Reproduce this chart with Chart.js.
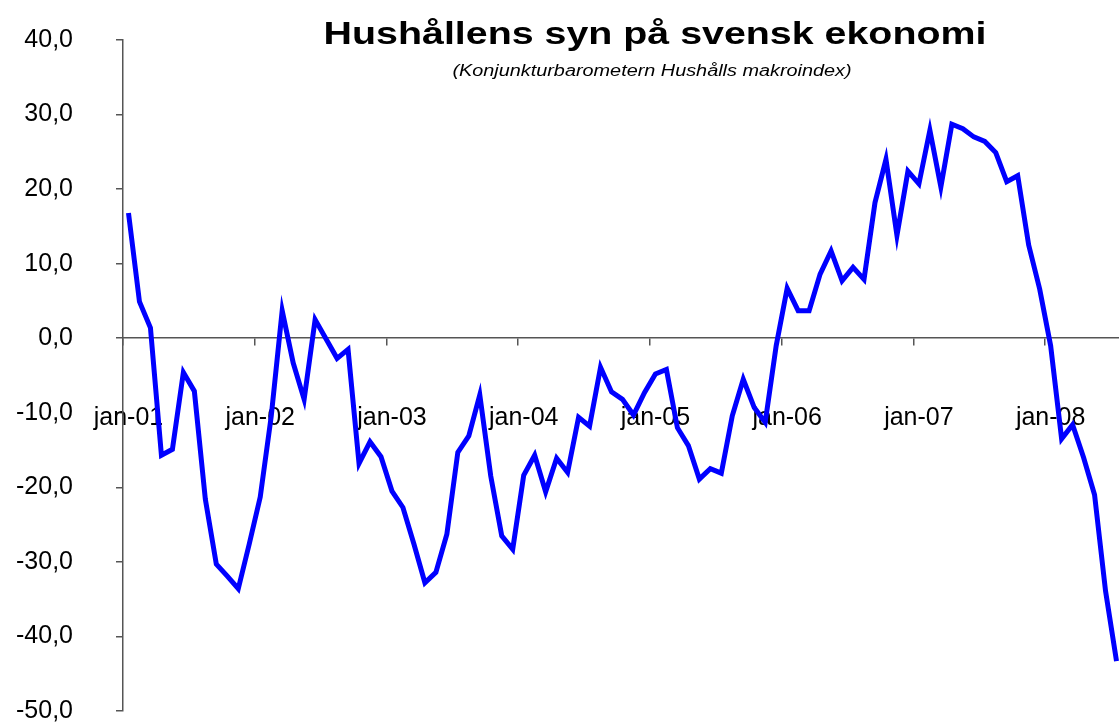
<!DOCTYPE html>
<html>
<head>
<meta charset="utf-8">
<script src="https://cdn.jsdelivr.net/npm/chart.js@4/dist/chart.umd.min.js"></script>
<style>
  html, body { margin: 0; padding: 0; background: #fff; overflow: hidden; }
</style>
</head>
<body>
<canvas id="canvas" width="1122" height="722"></canvas>
<script>
var monthNames = ['jan', 'feb', 'mar', 'apr', 'maj', 'jun', 'jul', 'aug', 'sep', 'okt', 'nov', 'dec'];
var years = ['01', '02', '03', '04', '05', '06', '07', '08'];
var yTicks = [40, 30, 20, 10, 0, -10, -20, -30, -40, -50];

// Hushålls makroindex, jan-01 .. jul-08
var makroindex = [
  16.8, 4.9, 1.4, -15.7, -14.9, -4.6, -7.1, -21.6, -30.3, -31.9, -33.6, -27.6,
  -21.3, -10.5, 3.7, -3.3, -8.2, 2.5, -0.1, -2.7, -1.5, -16.8, -13.9, -15.9,
  -20.5, -22.7, -27.6, -32.8, -31.4, -26.3, -15.3, -13.1, -7.6, -18.5, -26.5, -28.3,
  -18.4, -15.7, -20.6, -16.1, -18.0, -10.6, -11.8, -3.9, -7.2, -8.2, -10.3, -7.3,
  -4.8, -4.2, -12.0, -14.4, -18.9, -17.5, -18.1, -10.4, -5.5, -9.3, -11.3, -1.0,
  6.7, 3.7, 3.7, 8.6, 11.7, 7.7, 9.5, 7.9, 18.2, 24.0, 13.8, 22.4,
  20.7, 27.9, 20.3, 28.7, 28.1, 27.0, 26.4, 24.9, 21.0, 21.8, 12.5, 6.6,
  -1.0, -13.5, -11.6, -16.0, -21.0, -33.9, -43.3
];

var labels = [];
years.forEach(function(y) {
  monthNames.forEach(function(m) { labels.push(m + '-' + y); });
});
labels = labels.slice(0, makroindex.length);

var titleText = 'Hushållens syn på svensk ekonomi';
var subtitleText = '(Konjunkturbarometern Hushålls makroindex)';

// Excel-style title, a bit wider than the font
var titlePlugin = {
  id: 'stretchedTitle',
  afterDraw: function(chart) {
    var ctx = chart.ctx;
    ctx.save();
    ctx.fillStyle = '#000';
    ctx.textAlign = 'center';
    ctx.textBaseline = 'alphabetic';
    ctx.font = 'bold 32px "Liberation Sans", Arial, sans-serif';
    ctx.translate(655, 43.5);
    ctx.scale(1.23, 1);
    ctx.fillText(titleText, 0, 0);
    ctx.restore();

    ctx.save();
    ctx.fillStyle = '#000';
    ctx.textAlign = 'center';
    ctx.textBaseline = 'alphabetic';
    ctx.font = 'italic 16px "Liberation Sans", Arial, sans-serif';
    ctx.translate(652, 76);
    ctx.scale(1.24, 1);
    ctx.fillText(subtitleText, 0, 0);
    ctx.restore();
  }
};

window.onload = function() {
  var ctx = document.getElementById('canvas').getContext('2d');
  window.myLine = new Chart(ctx, {
    type: 'line',
    data: {
      labels: labels,
      datasets: [{
        label: 'Makroindex',
        data: makroindex,
        borderColor: '#0000ff',
        backgroundColor: '#0000ff',
        borderWidth: 5,
        pointRadius: 0,
        tension: 0,
        fill: false
      }]
    },
    options: {
      responsive: false,
      animation: false,
      layout: { padding: { left: 16, top: 40, right: 0, bottom: 11 } },
      plugins: {
        legend: { display: false },
        title: { display: false },
        tooltip: { enabled: false }
      },
      scales: {
        x: {
          type: 'category',
          position: { y: 0 },
          offset: true,
          border: { display: true, color: '#555', width: 1.5 },
          grid: {
            offset: true,
            drawOnChartArea: false,
            drawTicks: true,
            tickLength: 7,
            lineWidth: 1.5,
            color: function(c) {
              return (c.index % 12 === 0) ? '#555' : 'rgba(0,0,0,0)';
            }
          },
          ticks: {
            autoSkip: false,
            maxRotation: 0,
            padding: 58,
            color: '#000',
            font: { family: '"Liberation Sans", Arial, sans-serif', size: 25 },
            callback: function(v, i) {
              var l = this.getLabelForValue(v);
              return l.indexOf('jan') === 0 ? l : '';
            }
          },
          afterFit: function(scale) {
            scale.paddingLeft = 0;
            scale.paddingRight = 0;
          }
        },
        y: {
          min: -50,
          max: 40,
          border: { display: true, color: '#555', width: 1.5 },
          grid: {
            drawOnChartArea: false,
            drawTicks: true,
            tickLength: 7,
            lineWidth: 1.5,
            color: '#555'
          },
          afterBuildTicks: function(scale) {
            scale.ticks = yTicks.map(function(v) { return { value: v }; });
          },
          ticks: {
            padding: 43,
            color: '#000',
            font: { family: '"Liberation Sans", Arial, sans-serif', size: 25 },
            callback: function(v) { return v.toFixed(1).replace('.', ','); }
          },
          afterFit: function(scale) {
            scale.width = 107;
            scale.paddingTop = 0;
            scale.paddingBottom = 0;
          }
        }
      }
    },
    plugins: [titlePlugin]
  });
};
</script>
</body>
</html>
